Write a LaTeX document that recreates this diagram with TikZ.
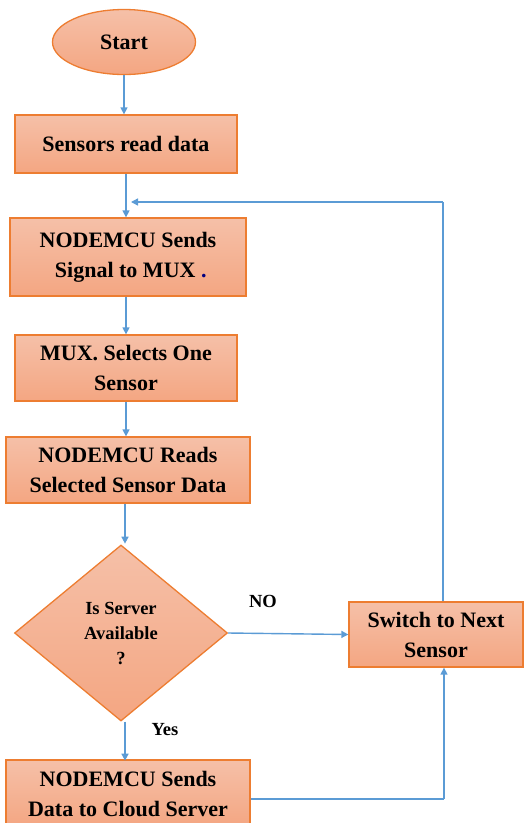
\documentclass[tikz,border=0pt]{standalone}
\usepackage{fontspec}
\setmainfont{Liberation Serif}
\usetikzlibrary{shapes.geometric,arrows.meta,calc}
\definecolor{fillTop}{RGB}{245,192,168}
\definecolor{fillBot}{RGB}{244,166,130}
\definecolor{edgeOr}{RGB}{237,125,49}
\definecolor{flowBlue}{RGB}{91,155,213}
\tikzset{
  x=1pt,y=1pt,
  procbox/.style={rectangle,draw=edgeOr,line width=1.3pt,top color=fillTop,bottom color=fillBot,
    align=center,inner sep=0pt,font=\fontsize{22}{30}\selectfont\bfseries},
  startbox/.style={ellipse,draw=edgeOr,line width=1.3pt,top color=fillTop,bottom color=fillBot,
    align=center,inner sep=0pt,font=\fontsize{22}{30}\selectfont\bfseries},
  decbox/.style={diamond,draw=edgeOr,line width=1.3pt,top color=fillTop,bottom color=fillBot,
    align=center,inner sep=0pt,shape aspect=1.21,font=\fontsize{18.5}{25}\selectfont\bfseries},
  flow/.style={draw=flowBlue,line width=1.4pt,-{Triangle[length=7pt,width=7pt]}},
  flowline/.style={draw=flowBlue,line width=1.4pt},
  lbl/.style={font=\fontsize{18.5}{22}\selectfont\bfseries,inner sep=0pt}
}
\begin{document}
\begin{tikzpicture}
\useasboundingbox (0,0) rectangle (524,-823);
\node[startbox,minimum width=143,minimum height=65] (start) at (124,-42) {Start};
\node[procbox,minimum width=222,minimum height=58] (sensors) at (126,-144) {Sensors read data};
\node[procbox,minimum width=236,minimum height=78] (sends) at (128,-257) {NODEMCU Sends\\\ Signal to MUX {\color{blue!50!black}.}};
\node[procbox,minimum width=222,minimum height=66] (mux) at (126,-368) {MUX. Selects One\\Sensor};
\node[procbox,minimum width=244,minimum height=66] (reads) at (128,-470) {NODEMCU Reads\\Selected Sensor Data};
\node[decbox,minimum width=213,minimum height=176] (dec) at (121,-633) {Is Server\\Available\\?};
\node[procbox,minimum width=174,minimum height=65] (switch) at (436,-634.5) {Switch to Next\\Sensor};
\node[procbox,minimum width=244,minimum height=67] (cloud) at (128,-793.5) {NODEMCU Sends\\Data to Cloud Server};
\node[lbl] (no) at (263,-601) {NO};
\node[lbl] (yes) at (165,-730) {Yes};
\coordinate (loopR) at (443,-202);
\coordinate (loopL) at (131,-202);
\coordinate (retR) at (444,-799);
\draw[flow] (start.south) -- (start.south |- sensors.north);
\draw[flow] (sensors.south) -- (sensors.south |- sends.north);
\draw[flow] (sends.south -| mux.north) -- (mux.north);
\draw[flow] (mux.south) -- (mux.south |- reads.north);
\draw[flow] (reads.south -| dec.north) ++(4,0) -- ++(0,-40);
\draw[flow] (dec.east) -- (switch.west);
\draw[flow] (dec.south) ++(4,0) -- ++(0,-39);
\draw[flowline] (switch.north -| loopR) -- (loopR);
\draw[flow] (loopR) -- (loopL);
\draw[flowline] (cloud.east |- retR) -- (retR);
\draw[flow] (retR) -- (retR |- switch.south);
\end{tikzpicture}
\end{document}
